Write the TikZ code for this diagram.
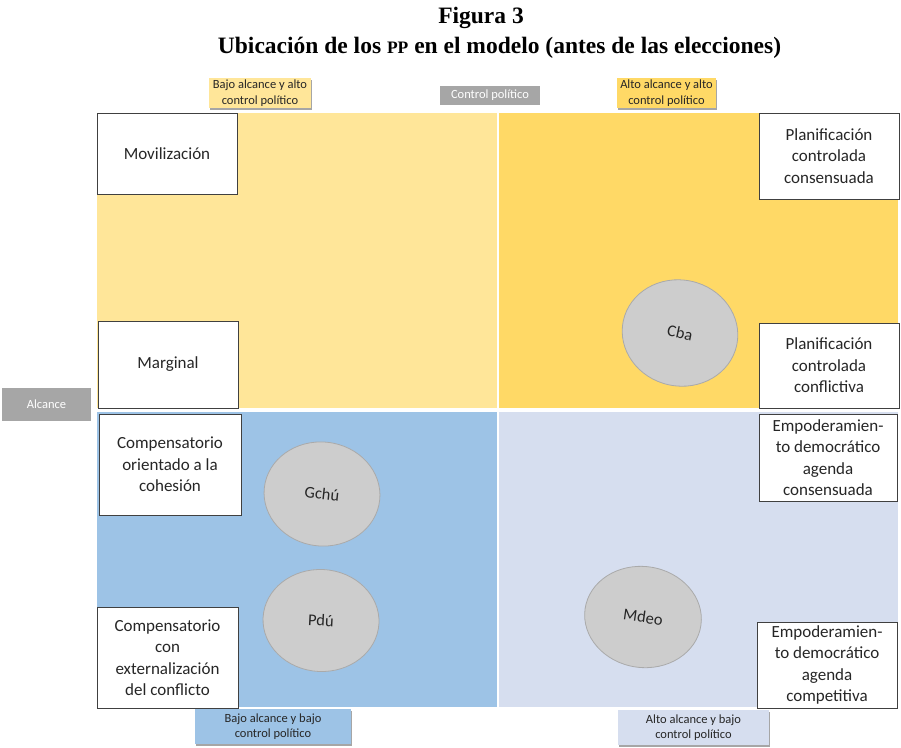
\documentclass[tikz,border=0pt]{standalone}
\usepackage{fontspec}
\setmainfont{Carlito}
\newfontfamily\titlefont{Liberation Serif}
\usetikzlibrary{shapes.geometric,shadows}
\definecolor{ylight}{HTML}{FFE699}
\definecolor{ydark}{HTML}{FFD966}
\definecolor{bdark}{HTML}{9DC3E6}
\definecolor{blight}{HTML}{D6DEEF}
\definecolor{boxline}{HTML}{404040}
\definecolor{txt}{HTML}{262626}
\definecolor{graylab}{HTML}{A6A6A6}
\definecolor{ellfill}{HTML}{CDCDCD}
\definecolor{elldraw}{HTML}{AAAAAA}
\tikzset{
  quad/.style={inner sep=0pt, draw=none},
  typebox/.style={draw=boxline, line width=0.9pt, fill=white, text=txt, align=center,
    font=\fontsize{17}{21.5}\selectfont, inner sep=0pt},
  lab/.style={inner sep=0pt, align=center, text=txt, font=\fontsize{12.5}{15.5}\selectfont,
    drop shadow={shadow xshift=1pt, shadow yshift=-2pt, opacity=0.35, fill=black}},
  graybox/.style={inner sep=0pt, fill=graylab, text=white, font=\fontsize{12.5}{15}\selectfont},
  ell/.style={ellipse, draw=elldraw, line width=0.8pt, fill=ellfill, inner sep=0pt,
    text=txt, font=\fontsize{16.5}{18}\selectfont},
  ttl/.style={inner sep=0pt, text=black, font=\titlefont\bfseries\fontsize{23.5}{25}\selectfont}
}
\begin{document}
\begin{tikzpicture}[x=1pt,y=-1pt]
\useasboundingbox (0,0) rectangle (901,747);
% title
\node[ttl] (fig) at (481,18) {Figura 3};
\node[ttl] (tit) at (499.5,48) {Ubicación de los {\fontsize{17.5}{18}\selectfont PP} en el modelo (antes de las elecciones)};
% quadrants
\node[quad, fill=ylight, minimum width=400, minimum height=295] (q1) at (297,260.5) {};
\node[quad, fill=ydark, minimum width=399, minimum height=295] (q2) at (698.5,260.5) {};
\node[quad, fill=bdark, minimum width=400, minimum height=295] (q3) at (297,559.5) {};
\node[quad, fill=blight, minimum width=399, minimum height=295] (q4) at (698.5,559.5) {};
% top labels
\node[lab, fill=ylight, minimum width=102, minimum height=30] (l1) at (260,93) {Bajo alcance y alto\\control político};
\node[graybox, minimum width=100, minimum height=19] (ctrl) at (490,95.5) {Control político};
\node[lab, fill=ydark, minimum width=99, minimum height=30] (l2) at (666.5,93) {Alto alcance y alto\\control político};
% left label
\node[graybox, minimum width=89, minimum height=33] (alc) at (46.5,404.5) {Alcance};
% bottom labels
\node[lab, fill=bdark, minimum width=156, minimum height=35] (l3) at (273,726.5) {Bajo alcance y bajo\\control político};
\node[lab, fill=blight, minimum width=151, minimum height=35] (l4) at (693.5,727.5) {Alto alcance y bajo\\control político};
% type boxes
\node[typebox, minimum width=140, minimum height=81] (mov) at (167,153.5) {Movilización};
\node[typebox, minimum width=140, minimum height=87] (marg) at (168,364.5) {Marginal};
\node[typebox, minimum width=142, minimum height=101] (comp1) at (170,464.5) {Compensatorio\\orientado a la\\cohesión};
\node[typebox, minimum width=141, minimum height=101] (comp2) at (167.5,657.5) {Compensatorio\\con\\externalización\\del conflicto};
\node[typebox, minimum width=140, minimum height=86] (plan1) at (829,156) {Planificación\\controlada\\consensuada};
\node[typebox, minimum width=140, minimum height=85] (plan2) at (829,365.5) {Planificación\\controlada\\conflictiva};
\node[typebox, minimum width=138, minimum height=87] (emp1) at (828,457.5) {Empoderamien-\\to democrático\\agenda\\consensuada};
\node[typebox, minimum width=140, minimum height=86] (emp2) at (827,665) {Empoderamien-\\to democrático\\agenda\\competitiva};
% ellipses
\node[ell, minimum width=116, minimum height=106, rotate=-12] (cba) at (680,333) {Cba};
\node[ell, minimum width=116, minimum height=104, rotate=-6] (gchu) at (322,494) {Gchú};
\node[ell, minimum width=116, minimum height=102, rotate=-3] (pdu) at (321,620.5) {Pdú};
\node[ell, minimum width=117, minimum height=101, rotate=-8] (mdeo) at (643,617) {Mdeo};
\end{tikzpicture}
\end{document}
